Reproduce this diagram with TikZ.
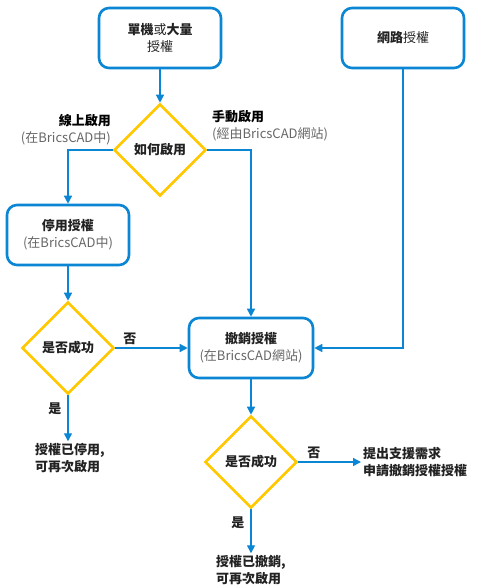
\documentclass[tikz,border=0pt]{standalone}
\usepackage{fontspec}
\setmainfont{Noto Sans CJK TC}
\usetikzlibrary{shapes.geometric,arrows.meta}
\definecolor{bblue}{HTML}{0A86D4}
\definecolor{ylw}{HTML}{FFC800}
\definecolor{txtgray}{HTML}{666666}
\definecolor{txtdark}{HTML}{222222}
\begin{document}
\begin{tikzpicture}[x=1pt,y=-1pt,
  font=\fontsize{13}{17}\selectfont,
  box/.style={draw=bblue,line width=2.6pt,rounded corners=10pt,minimum width=122pt,minimum height=60pt,align=center,inner sep=0pt,text=txtdark},
  dec/.style={draw=ylw,line width=2.6pt,shape=diamond,minimum width=92pt,minimum height=92pt,inner sep=0pt,text=txtdark,font=\fontsize{13}{17}\selectfont\bfseries},
  conn/.style={draw=bblue,line width=1.4pt},
  arr/.style={conn,-{Triangle[length=8pt,width=8pt]}},
  lbl/.style={text=txtdark,font=\fontsize{13}{17}\selectfont\bfseries,inner sep=0pt},
  outtxt/.style={text=txtdark,font=\fontsize{13}{16.5}\selectfont\bfseries,align=left,inner sep=2pt}]
\useasboundingbox (0,0) rectangle (479,586);

\node[box] (b1) at (160,38) {\textbf{單機}或\textbf{大量}\\授權};
\node[box] (b2) at (403,38) {\textbf{網路}授權};
\node[dec] (d1) at (160,150) {如何啟用};
\node[box] (b3) at (68,235) {\textbf{停用授權}\\\textcolor{txtgray}{(在BricsCAD中)}};
\node[dec] (d2) at (68,348) {是否成功};
\node[box,minimum width=124pt] (b4) at (251,348) {\textbf{撤銷授權}\\\textcolor{txtgray}{(在BricsCAD網站)}};
\node[dec] (d3) at (251,462) {是否成功};

\node[outtxt] (t1) at (70,458) {授權已停用,\\可再次啟用};
\node[outtxt] (t2) at (251,570) {授權已撤銷,\\可再次啟用};
\node[outtxt,anchor=west] (t3) at (361,462) {提出支援需求\\申請撤銷授權授權};

\node[align=right,anchor=east,inner sep=0pt] (l1) at (111,130) {\textbf{線上啟用}\\\textcolor{txtgray}{(在BricsCAD中)}};
\node[align=left,anchor=west,inner sep=0pt] (l2) at (212,126) {\textbf{手動啟用}\\\textcolor{txtgray}{(經由BricsCAD網站)}};

\draw[arr] (b1.south) -- (d1.north);
\draw[arr] (d1.west) -| (b3.north);
\draw[arr] (d1.east) -| (b4.north);
\draw[arr] (b2.south) |- (b4.east);
\draw[arr] (b3.south) -- (d2.north);
\draw[arr] (d2.east) -- node[lbl,above=3pt,pos=0.2] (n1) {否} (b4.west);
\draw[arr] (d2.south) -- node[lbl,left=6pt,pos=0.3] (y1) {是} (t1.north -| d2.south);
\draw[arr] (b4.south) -- (d3.north);
\draw[arr] (d3.east) -- node[lbl,above=3pt,pos=0.25] (n2) {否} (t3.west);
\draw[arr] (d3.south) -- node[lbl,left=6pt,pos=0.3] (y2) {是} (t2.north);
\end{tikzpicture}
\end{document}
